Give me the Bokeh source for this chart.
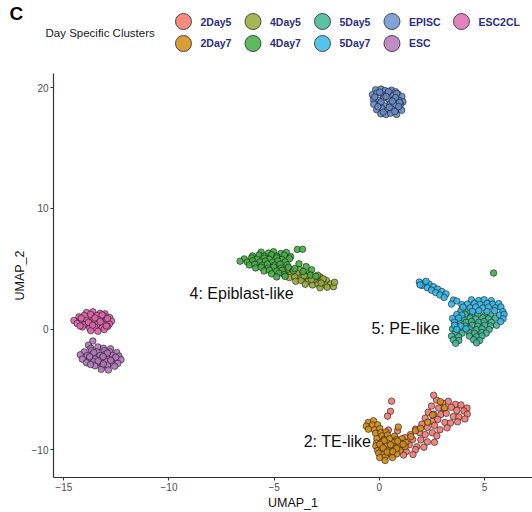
from bokeh.plotting import figure
from bokeh.models import Range1d, FixedTicker, Label
from bokeh.layouts import column
from bokeh.embed import file_html
from bokeh.resources import INLINE
from bokeh.core.properties import value

FONT = "Liberation Sans"

clusters = ["2Day5", "2Day7", "4Day5", "4Day7", "5Day5", "5Day7", "EPISC", "ESC", "ESC2CL"]
legend_colors = ["#F4857A", "#D8982C", "#A2B24C", "#56B556", "#52BE9E", "#4CC1EA", "#7A9ED6", "#BC86C2", "#E27AB6"]
point_colors = ["#F07870", "#D08C18", "#97A83A", "#45AD45", "#3DB591", "#33B5E5", "#6689C8", "#B075B8", "#DD65A8"]

pts_2Day5 = [(2.72, -5.88), (3.02, -6.13), (3.28, -5.97), (3.62, -6.23), (3.88, -6.27), (4.17, -6.53),
             (2.48, -6.37), (2.82, -6.53), (3.08, -6.57), (3.42, -6.47), (3.68, -6.73), (4.02, -6.77), (4.18, -7.03),
             (2.32, -6.87), (2.58, -7.03), (2.92, -7.07), (3.18, -6.97), (3.52, -7.23), (3.78, -7.27), (4.07, -7.43),
             (2.18, -7.37), (2.52, -7.63), (2.78, -7.47), (3.12, -7.73), (3.38, -7.77), (3.72, -7.67),
             (2.02, -7.87), (2.28, -8.13), (2.62, -7.97), (2.88, -8.33), (3.22, -8.17),
             (1.72, -8.27), (1.48, -8.73), (1.92, -8.57), (2.18, -8.73), (2.52, -8.57), (2.73, -8.83),
             (1.22, -8.97), (1.58, -9.13), (1.97, -9.17), (2.28, -9.33), (2.62, -9.37),
             (1.08, -9.53), (1.42, -9.57), (1.78, -9.73), (2.12, -9.77),
             (0.92, -9.87), (1.28, -10.13), (1.72, -9.97),
             (0.65, -10.4), (1.15, -10.42), (1.6, -10.38),
             (0.43, -8.35), (0.87, -8.4),
             (0.58, -5.96), (0.53, -6.8), (0.39, -7.2), (2.58, -5.47)]

pts_2Day7 = [(-0.53, -7.72), (-0.28, -7.58), (-0.62, -8.03), (-0.33, -7.93), (-0.08, -7.92), (-0.52, -8.28),
             (-0.23, -8.33), (0.02, -8.23), (-0.18, -8.62), (0.07, -8.57), (0.32, -8.52),
             (0.12, -8.83), (0.38, -8.77), (0.72, -8.87),
             (-0.12, -9.07), (0.22, -9.13), (0.48, -9.07), (0.82, -9.13), (1.08, -9.07),
             (-0.13, -9.43), (0.12, -9.37), (0.38, -9.43), (0.72, -9.37), (0.98, -9.43), (1.27, -9.38),
             (-0.17, -9.67), (0.07, -9.73), (0.33, -9.67), (0.67, -9.73), (0.93, -9.67), (1.22, -9.72),
             (-0.08, -10.03), (0.12, -9.97), (0.38, -10.03), (0.72, -9.97), (0.98, -10.03),
             (-0.03, -10.27), (0.22, -10.33), (0.48, -10.27), (0.82, -10.33),
             (0.02, -10.63), (0.28, -10.57), (0.62, -10.63), (0.27, -10.87),
             (0.23, -9.23), (0.87, -9.27), (0.02, -9.53), (0.53, -9.57), (1.13, -9.53),
             (0.18, -9.83), (0.82, -9.87), (0.37, -10.17), (0.63, -10.13),
             (1.72, -8.4), (1.96, -8.2), (2.53, -7.1), (2.9, -6.0), (3.1, -6.5),
             (1.5, -8.9), (2.3, -7.7), (0.9, -8.1)]

pts_4Day5 = [(-4.38, 4.93), (-4.12, 4.86), (-3.78, 4.92),
             (-4.52, 4.62), (-4.18, 4.57), (-3.92, 4.64), (-3.58, 4.56), (-3.32, 4.63),
             (-4.28, 4.27), (-4.02, 4.33), (-3.68, 4.26), (-3.42, 4.34), (-3.08, 4.27), (-2.82, 4.33),
             (-3.98, 3.97), (-3.72, 4.04), (-3.38, 3.96), (-3.12, 4.03), (-2.78, 3.96), (-2.52, 4.04),
             (-3.52, 3.72), (-3.18, 3.66), (-2.92, 3.73), (-2.58, 3.67), (-2.32, 3.74),
             (-2.82, 3.43), (-2.48, 3.48), (-2.18, 3.52),
             (-3.57, 4.43), (-2.93, 4.47), (-3.23, 4.12), (-2.67, 4.17), (-2.77, 3.82), (-2.13, 3.88)]

pts_4Day7 = [(-5.62, 6.38), (-5.27, 6.31), (-5.03, 6.42), (-4.68, 6.27), (-4.42, 6.35),
             (-6.03, 6.07), (-5.72, 6.14), (-5.47, 6.05), (-5.12, 6.16), (-4.88, 6.04), (-4.52, 6.13), (-4.22, 6.01),
             (-6.42, 5.82), (-6.08, 5.9), (-5.82, 5.8), (-5.47, 5.88), (-5.22, 5.79), (-4.87, 5.9), (-4.63, 5.78), (-4.27, 5.84),
             (-6.62, 5.63), (-6.28, 5.56), (-6.02, 5.66), (-5.68, 5.57), (-5.42, 5.64), (-5.08, 5.55), (-4.82, 5.65), (-4.48, 5.57),
             (-6.18, 5.32), (-5.92, 5.38), (-5.58, 5.3), (-5.32, 5.39), (-4.98, 5.31), (-4.72, 5.38), (-4.38, 5.32),
             (-5.88, 5.07), (-5.62, 5.13), (-5.28, 5.06), (-5.02, 5.14), (-4.68, 5.06), (-4.32, 5.12),
             (-5.48, 4.82), (-5.22, 4.88), (-4.88, 4.81), (-4.62, 4.88), (-4.08, 4.83),
             (-5.12, 4.58), (-4.78, 4.63), (-4.52, 4.52), (-4.88, 4.33), (-4.48, 4.37),
             (-3.9, 6.6), (-3.65, 6.62), (-3.82, 5.42), (-3.48, 5.18), (-3.22, 4.92), (-3.28, 4.48),
             (-3.02, 4.38), (-3.62, 4.78), (-4.02, 5.02), (5.43, 4.65)]

pts_5Day5 = [(3.88, 1.53), (4.22, 1.47),
             (4.08, 1.23), (4.42, 1.17), (4.68, 1.24), (5.02, 1.16), (5.28, 1.22),
             (3.98, 0.87), (4.32, 0.93), (4.58, 0.86), (4.92, 0.94), (5.18, 0.87), (5.52, 0.92),
             (3.78, 0.63), (4.12, 0.57), (4.38, 0.64), (4.72, 0.56), (4.98, 0.63), (5.32, 0.57),
             (4.08, 0.27), (4.42, 0.33), (4.68, 0.26), (5.02, 0.34), (5.28, 0.27), (5.57, 0.32),
             (3.48, 0.03), (3.92, -0.03), (4.28, 0.04), (4.62, -0.04), (4.88, 0.03), (5.22, -0.03),
             (3.62, -0.27), (3.93, -0.33), (4.27, -0.26), (4.53, -0.34), (4.87, -0.27), (5.08, -0.33),
             (3.43, -0.57), (3.77, -0.63), (4.28, -0.57), (4.62, -0.63), (4.88, -0.56),
             (3.52, -0.88), (3.78, -0.93), (4.48, -0.87), (4.77, -0.93), (3.63, -1.17), (4.62, -1.13)]

pts_5Day7 = [(1.9, 3.9), (2.17, 3.83), (2.03, 3.62), (2.37, 3.72), (2.28, 3.43), (2.57, 3.52),
             (2.48, 3.23), (2.77, 3.32), (2.68, 3.03), (2.97, 3.12), (2.88, 2.83), (3.17, 2.92),
             (3.08, 2.63), (2.22, 3.97), (1.93, 3.67),
             (3.52, 2.42), (3.68, 2.33), (3.43, 2.08), (3.92, 2.03),
             (4.38, 2.43), (4.72, 2.37), (4.98, 2.44), (5.32, 2.36),
             (4.18, 2.07), (4.52, 2.13), (4.78, 2.06), (5.12, 2.14), (5.38, 2.07), (5.67, 2.12),
             (3.98, 1.83), (4.32, 1.77), (4.58, 1.84), (4.92, 1.76), (5.18, 1.83), (5.52, 1.77), (5.78, 1.84),
             (4.42, 1.47), (4.73, 1.53), (5.12, 1.47), (5.48, 1.53), (5.87, 1.47),
             (5.72, 1.17), (5.93, 1.23), (3.68, 1.22), (3.92, 1.17),
             (3.48, 0.88), (3.77, 0.93), (5.88, 0.87), (3.57, 0.58), (5.77, 0.63),
             (3.58, 0.32), (3.87, 0.27), (3.68, -0.02), (4.12, 0.03)]

pts_EPISC = [(-0.18, 19.82), (0.08, 19.88), (0.27, 19.76), (0.58, 19.79), (0.77, 19.66),
             (-0.33, 19.41), (-0.12, 19.55), (0.18, 19.36), (0.37, 19.5), (0.68, 19.38), (0.88, 19.48), (1.07, 19.27),
             (-0.28, 19.02), (-0.02, 18.96), (0.22, 19.14), (0.47, 18.97), (0.73, 19.08), (0.93, 18.95), (1.12, 18.83),
             (-0.27, 18.63), (0.03, 18.68), (0.23, 18.5), (0.52, 18.64), (0.72, 18.52), (1.01, 18.62),
             (-0.13, 18.17), (0.12, 18.28), (0.38, 18.12), (0.58, 18.24), (0.88, 18.17), (1.06, 18.12),
             (0.07, 17.83), (0.32, 17.77), (0.53, 17.88), (0.82, 17.78),
             (0.02, 19.63), (0.43, 19.68), (0.82, 19.52), (-0.22, 19.22), (0.32, 19.27), (0.77, 19.18),
             (0.08, 18.82), (0.62, 18.88), (0.97, 18.77), (-0.07, 18.42), (0.47, 18.37), (0.92, 18.43),
             (0.18, 17.97), (0.73, 18.02)]

pts_ESC = [(-13.62, -0.98), (-13.83, -1.32),
           (-13.72, -1.58), (-13.38, -1.47), (-13.12, -1.58), (-12.78, -1.63),
           (-14.03, -1.88), (-13.68, -1.77), (-13.42, -1.88), (-13.08, -1.78), (-12.82, -1.88), (-12.48, -1.93),
           (-14.22, -2.12), (-13.88, -2.18), (-13.62, -2.07), (-13.28, -2.18), (-13.02, -2.08), (-12.68, -2.17), (-12.38, -2.23),
           (-14.12, -2.48), (-13.78, -2.37), (-13.52, -2.47), (-13.18, -2.38), (-12.92, -2.48), (-12.58, -2.38), (-12.28, -2.52),
           (-13.92, -2.78), (-13.58, -2.68), (-13.32, -2.78), (-12.98, -2.68), (-12.72, -2.78), (-12.43, -2.83),
           (-13.52, -3.03), (-13.18, -3.08), (-12.92, -2.98), (-12.58, -3.07),
           (-13.22, -3.32), (-12.88, -3.38),
           (-13.57, -1.93), (-12.93, -1.98), (-13.77, -2.28), (-13.13, -2.27), (-12.53, -2.32),
           (-13.37, -2.62), (-12.77, -2.58), (-13.73, -2.92), (-13.12, -2.88)]

pts_ESC2CL = [(-13.92, 1.38), (-13.62, 1.44), (-13.28, 1.31), (-13.04, 1.27),
              (-14.28, 1.02), (-14.03, 1.14), (-13.68, 1.01), (-13.43, 1.13), (-13.08, 1.08), (-12.82, 0.96),
              (-14.52, 0.72), (-14.18, 0.83), (-13.93, 0.71), (-13.58, 0.74), (-13.32, 0.79), (-12.97, 0.76), (-12.73, 0.67),
              (-14.37, 0.48), (-14.02, 0.37), (-13.78, 0.49), (-13.43, 0.36), (-13.18, 0.47), (-12.83, 0.43),
              (-14.12, 0.18), (-13.77, 0.07), (-13.53, 0.17), (-13.17, 0.12), (-12.92, 0.23),
              (-13.72, -0.12), (-13.38, -0.17), (-13.08, -0.03),
              (-13.73, 1.23), (-13.18, 1.18), (-14.17, 0.92), (-13.52, 0.93), (-12.92, 0.88),
              (-13.83, 0.57), (-13.27, 0.62), (-14.23, 0.27), (-13.63, 0.33), (-12.98, 0.27)]

label_text = ["4: Epiblast-like", "5: PE-like", "2: TE-like"]
label_x = [-6.55, 1.25, -1.99]
label_y = [2.93, 0.09, -9.32]

x_ticks = [-15, -10, -5, 0, 5]
y_ticks = [-10, 0, 10, 20]

cluster_points = [pts_2Day5, pts_2Day7, pts_4Day5, pts_4Day7, pts_5Day5,
                  pts_5Day7, pts_EPISC, pts_ESC, pts_ESC2CL]

# ---------------- legend strip (own frame spanning the full width) ----------------
leg = figure(width=532, height=73, x_range=Range1d(-2.633, 5.022), y_range=Range1d(2.364, -0.955),
             output_backend="svg", toolbar_location=None, min_border=0,
             x_axis_location=None, y_axis_location=None)
leg.frame_align = False
leg.grid.visible = False
leg.outline_line_color = None
leg_col = [i // 2 for i in range(len(clusters))]
leg_row = [i % 2 for i in range(len(clusters))]
leg.scatter(leg_col, leg_row, size=16, fill_color=legend_colors, fill_alpha=0.95,
            line_color="#3a3a3a", line_width=0.9)
leg.text(leg_col, leg_row, text=clusters, x_offset=17, text_align="left", text_baseline="middle",
         text_font=value(FONT), text_font_style="bold", text_font_size="10.5px", text_color="#2B2F80")
leg.add_layout(Label(x=45, y=41, x_units="screen", y_units="screen", text="Day Specific Clusters",
                     text_font=FONT, text_font_size="11.5px", text_color="#1a1a1a",
                     text_baseline="middle", text_align="left"))
leg.add_layout(Label(x=9, y=60, x_units="screen", y_units="screen", text="C",
                     text_font=FONT, text_font_size="19px", text_font_style="bold", text_color="#000000",
                     text_baseline="alphabetic", text_align="left"))

# ---------------- main scatter ----------------
p = figure(width=532, height=439, x_range=Range1d(-15.49, 7.28), y_range=Range1d(-12.28, 21.17),
           output_backend="svg", toolbar_location=None,
           min_border_left=53, min_border_right=0, min_border_top=0, min_border_bottom=32)
p.frame_align = False
p.grid.visible = False
p.outline_line_color = None
p.background_fill_color = "white"

for name, col, pts in zip(clusters, point_colors, cluster_points):
    xs = [a for a, b in pts]
    ys = [b for a, b in pts]
    p.scatter(xs, ys, size=6.5, fill_color=col, fill_alpha=0.9, line_color="#1a1a1a",
              line_alpha=0.85, line_width=0.7)

p.text(label_x, label_y, text=label_text, text_align="center", text_baseline="middle",
       text_font=value(FONT), text_font_size="16px", text_color="#111111")

p.xaxis.ticker = FixedTicker(ticks=x_ticks)
p.yaxis.ticker = FixedTicker(ticks=y_ticks)
p.xaxis.major_label_overrides = {t: str(t).replace("-", "\u2212") for t in x_ticks}
p.yaxis.major_label_overrides = {t: str(t).replace("-", "\u2212") for t in y_ticks}
p.xaxis.axis_label = "UMAP_1"
p.yaxis.axis_label = "UMAP_2"
for ax in (p.xaxis, p.yaxis):
    ax.axis_line_color = "#333333"
    ax.axis_line_width = 1.2
    ax.major_tick_line_color = "#333333"
    ax.major_tick_line_width = 1.1
    ax.major_tick_in = 0
    ax.major_tick_out = 3
    ax.minor_tick_line_color = None
    ax.major_label_text_font = FONT
    ax.major_label_text_font_size = "10px"
    ax.major_label_text_color = "#4D4D4D"
    ax.major_label_standoff = 2
    ax.axis_label_text_font = FONT
    ax.axis_label_text_font_size = "12.5px"
    ax.axis_label_text_font_style = "normal"
    ax.axis_label_text_color = "#111111"
    ax.axis_label_standoff = 2

layout = column(leg, p, spacing=0)
open("out.html", "w").write(file_html(layout, INLINE))
